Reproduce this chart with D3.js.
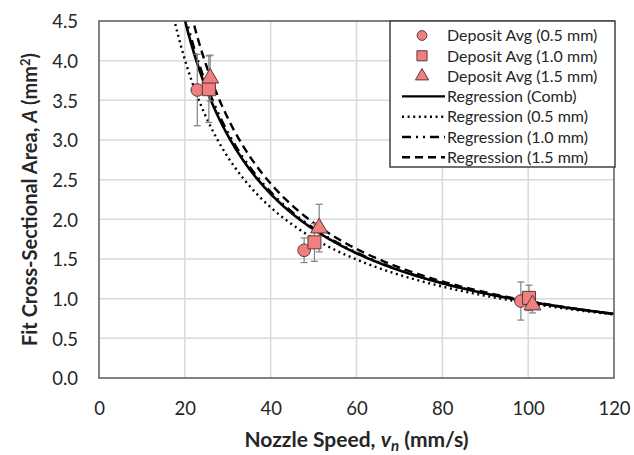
<!DOCTYPE html>
<html>
<head>
<meta charset="utf-8">
<script src="https://cdn.jsdelivr.net/npm/d3@7"></script>
<style>
  html, body { margin: 0; padding: 0; background: #fff; }
  svg { display: block; font-family: Lato, "Open Sans", sans-serif; }
</style>
</head>
<body>
<svg id="chart" width="634" height="455"></svg>
<script>
// Measured deposit averages (nozzle speed in mm/s, area in mm^2, ± std. dev.)
const speed05 = [22.9, 47.8, 98.3];
const area05  = [3.63, 1.61, 0.97];
const err05   = [0.45, 0.155, 0.24];

const speed10 = [25.6, 50.2, 100.2];
const area10  = [3.64, 1.71, 1.01];
const err10   = [0.42, 0.24, 0.16];

const speed15 = [25.9, 51.3, 101.0];
const area15  = [3.78, 1.89, 0.92];
const err15   = [0.29, 0.30, 0.10];

// Power-law regressions A = c * v^(-p)
const regNames  = ["Regression (Comb)", "Regression (0.5 mm)", "Regression (1.0 mm)", "Regression (1.5 mm)"];
const regCoef   = [80.1, 59.5, 84.0, 101.7];
const regPower  = [0.96, 0.90, 0.97, 1.01];

const xTicks = [0, 20, 40, 60, 80, 100, 120];
const yTicks = [0.0, 0.5, 1.0, 1.5, 2.0, 2.5, 3.0, 3.5, 4.0, 4.5];

const W = 634, H = 455;
const m = { left: 99, right: 20, top: 21, bottom: 77 };
const svg = d3.select("#chart");

const x = d3.scaleLinear().domain([0, 120]).range([m.left, W - m.right]);
const y = d3.scaleLinear().domain([0, 4.5]).range([H - m.bottom, m.top]);

const textColor = "#262626";
const gridColor = "#d9d9d9";
const frameColor = "#595959";
const markFill = "#f08080";
const markStroke = "#5a3a3a";

// grid
const grid = svg.append("g");
grid.selectAll("line.h").data(yTicks.slice(1, -1)).join("line")
  .attr("x1", x(0)).attr("x2", x(120))
  .attr("y1", d => y(d)).attr("y2", d => y(d))
  .attr("stroke", gridColor).attr("stroke-width", 1.5);
grid.selectAll("line.v").data(xTicks.slice(1, -1)).join("line")
  .attr("y1", y(0)).attr("y2", y(4.5))
  .attr("x1", d => x(d)).attr("x2", d => x(d))
  .attr("stroke", gridColor).attr("stroke-width", 1.5);

// axes (labels only, no tick marks)
const xAxis = svg.append("g")
  .attr("transform", `translate(0,${y(0)})`)
  .call(d3.axisBottom(x).tickValues(xTicks).tickSize(0).tickPadding(24).tickFormat(d3.format("d")));
const yAxis = svg.append("g")
  .attr("transform", `translate(${x(0)},0)`)
  .call(d3.axisLeft(y).tickValues(yTicks).tickSize(0).tickPadding(21).tickFormat(d3.format(".1f")));
[xAxis, yAxis].forEach(g => {
  g.select(".domain").remove();
  g.selectAll("text").attr("font-family", "Lato, sans-serif").attr("font-size", 18.5).attr("fill", textColor);
});
yAxis.selectAll("text").attr("dy", "0.36em");

// clip for curves
svg.append("clipPath").attr("id", "plotClip")
  .append("rect").attr("x", x(0)).attr("y", y(4.5))
  .attr("width", x(120) - x(0)).attr("height", y(0) - y(4.5));

const dashes = [null, "2,3.6", "9,5,2,5,2,5", "8,5"];

const curveG = svg.append("g").attr("clip-path", "url(#plotClip)");
const line = d3.line().x(d => x(d[0])).y(d => y(d[1]));
regCoef.forEach((c, i) => {
  const p = regPower[i];
  const vStart = Math.pow(c / 4.6, 1 / p);
  const pts = d3.range(vStart, 120.01, 0.25).map(v => [v, c * Math.pow(v, -p)]);
  curveG.append("path")
    .attr("d", line(pts))
    .attr("fill", "none")
    .attr("stroke", "#000")
    .attr("stroke-width", i === 0 ? 2.6 : 2.4)
    .attr("stroke-dasharray", dashes[i]);
});

// error bars + markers
const series = [
  { v: speed05, a: area05, e: err05, shape: d3.symbolCircle, size: 125 },
  { v: speed10, a: area10, e: err10, shape: d3.symbolSquare, size: 170 },
  { v: speed15, a: area15, e: err15, shape: d3.symbolTriangle, size: 125 }
];
const errG = svg.append("g");
const markG = svg.append("g");
series.forEach(s => {
  s.v.forEach((v, k) => {
    const cx = x(v), top = y(s.a[k] + s.e[k]), bot = y(s.a[k] - s.e[k]);
    errG.append("line").attr("x1", cx).attr("x2", cx).attr("y1", top).attr("y2", bot)
      .attr("stroke", "#808080").attr("stroke-width", 1.2);
    [top, bot].forEach(yy => errG.append("line")
      .attr("x1", cx - 3.5).attr("x2", cx + 3.5).attr("y1", yy).attr("y2", yy)
      .attr("stroke", "#808080").attr("stroke-width", 1.2));
  });
});
series.forEach(s => {
  s.v.forEach((v, k) => {
    markG.append("path")
      .attr("d", d3.symbol().type(s.shape).size(s.size)())
      .attr("transform", `translate(${x(v)},${y(s.a[k])})`)
      .attr("fill", markFill).attr("stroke", markStroke).attr("stroke-width", 1);
  });
});

// plot frame
svg.append("rect")
  .attr("x", x(0)).attr("y", y(4.5))
  .attr("width", x(120) - x(0)).attr("height", y(0) - y(4.5))
  .attr("fill", "none").attr("stroke", frameColor).attr("stroke-width", 1.5);

// legend
const legendLabels = ["Deposit Avg (0.5 mm)", "Deposit Avg (1.0 mm)", "Deposit Avg (1.5 mm)"].concat(regNames);
const lg = svg.append("g");
lg.append("rect").attr("x", 390).attr("y", 21).attr("width", 225).attr("height", 146)
  .attr("fill", "#fff").attr("stroke", "#404040").attr("stroke-width", 1.5);
legendLabels.forEach((lab, i) => {
  const cy = 35.5 + i * 20.3;
  if (i < 3) {
    lg.append("path")
      .attr("d", d3.symbol().type(series[i].shape).size(series[i].size * 0.6)())
      .attr("transform", `translate(422,${cy})`)
      .attr("fill", markFill).attr("stroke", markStroke).attr("stroke-width", 1);
  } else {
    const j = i - 3;
    lg.append("line").attr("x1", 402).attr("x2", 445).attr("y1", cy).attr("y2", cy)
      .attr("stroke", "#000").attr("stroke-width", 2.4)
      .attr("stroke-dasharray", dashes[j]);
  }
  lg.append("text").attr("x", 447).attr("y", cy).attr("dy", "0.36em")
    .attr("font-size", 16).attr("fill", textColor).text(lab);
});

// axis titles
const xt = svg.append("text")
  .attr("x", x(60)).attr("y", 447)
  .attr("text-anchor", "middle").attr("font-size", 21).attr("font-weight", "bold").attr("fill", textColor);
xt.append("tspan").text("Nozzle Speed, ");
xt.append("tspan").attr("font-style", "italic").text("v");
xt.append("tspan").attr("font-style", "italic").attr("font-size", 15).attr("dy", 4).text("n");
xt.append("tspan").attr("dy", -4).text(" (mm/s)");

const yt = svg.append("text")
  .attr("transform", `translate(37,${(y(0) + y(4.5)) / 2}) rotate(-90)`)
  .attr("text-anchor", "middle").attr("font-size", 20).attr("font-weight", "bold").attr("fill", textColor);
yt.append("tspan").text("Fit Cross-Sectional Area, ");
yt.append("tspan").attr("font-style", "italic").text("A");
yt.append("tspan").text(" (mm");
yt.append("tspan").attr("font-size", 13).attr("dy", -7).text("2");
yt.append("tspan").attr("dy", 7).text(")");
</script>
</body>
</html>
